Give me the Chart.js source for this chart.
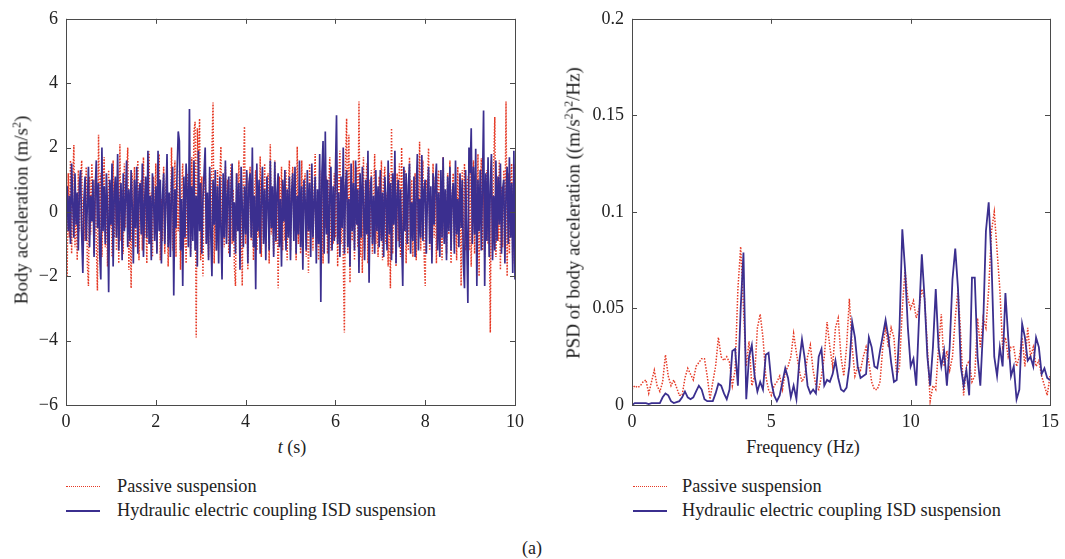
<!DOCTYPE html>
<html>
<head>
<meta charset="utf-8">
<script src="https://cdn.jsdelivr.net/npm/chart.js@4.4.1/dist/chart.umd.min.js"></script>
<style>
  html, body { margin:0; padding:0; background:#fff; }
  body { width:1065px; height:559px; position:relative; overflow:hidden; font-family:"Liberation Serif", "DejaVu Serif", serif; color:#222; }
  canvas { position:absolute; }
  .t { position:absolute; font-size:18px; white-space:nowrap; line-height:1; }
  .yt { font-size:19px; }
  .rot { transform:translate(-50%,-50%) rotate(-90deg); }
  .ctr { transform:translate(-50%,-50%); }
  sup { font-size:12px; vertical-align:7px; line-height:0; }
  .leg { position:absolute; font-size:18.3px; white-space:nowrap; line-height:1; }
  .sw { position:absolute; width:34px; height:0; }
</style>
</head>
<body>
<canvas id="c1" width="530" height="430" style="left:0;top:0;"></canvas>
<canvas id="c2" width="535" height="430" style="left:530px;top:0;"></canvas>

<div class="t yt rot" style="left:21px;top:210px;">Body acceleration (m/s<sup>2</sup>)</div>
<div class="t ctr" style="left:292px;top:447px;"><i>t</i> (s)</div>
<div class="t yt rot" style="left:573px;top:213px;">PSD of body acceleration ((m/s<sup>2</sup>)<sup>2</sup>/Hz)</div>
<div class="t ctr" style="left:803px;top:447px;">Frequency (Hz)</div>

<div class="sw" style="left:66px;top:486px;border-top:1.5px dotted #e63a26;"></div>
<div class="leg" style="left:117px;top:477px;">Passive suspension</div>
<div class="sw" style="left:66px;top:510px;border-top:2px solid #3b2f8f;"></div>
<div class="leg" style="left:117px;top:501px;">Hydraulic electric coupling ISD suspension</div>

<div class="sw" style="left:633px;top:486px;border-top:1.5px dotted #e63a26;"></div>
<div class="leg" style="left:682px;top:477px;">Passive suspension</div>
<div class="sw" style="left:633px;top:510px;border-top:2px solid #3b2f8f;"></div>
<div class="leg" style="left:682px;top:501px;">Hydraulic electric coupling ISD suspension</div>

<div class="t ctr" style="left:532px;top:548px;">(a)</div>

<script>
// ---------- Data ----------
// Time histories, sampled every 0.025 s from 0 to 10 s (one row = 1 s)
const timeStep = 0.025;
const passiveAccel = [
 -0.4,-2.0,1.2,-0.8,1.6,-1.3,0.9,2.08,-1.1,0.5,-1.5,1.3,-0.6,1.0,1.6,-1.2,0.4,-0.9,1.4,-1.6,-2.3,1.1,-0.7,1.5,0.6,-1.3,1.0,-1.0,-2.44,2.4,-0.8,1.2,-1.4,0.5,1.7,-1.1,0.8,-1.7,1.3,-0.5,
 0.9,-1.4,1.6,-0.8,0.4,-1.2,1.3,-1.6,2.1,-0.9,0.7,-1.3,1.5,-0.5,1.1,2.0,-1.8,0.6,-2.37,1.2,-0.6,1.4,-1.1,0.8,1.6,-1.5,0.3,1.0,-1.2,1.7,-0.8,0.5,-1.6,1.3,1.88,-1.0,0.6,-1.4,1.1,-0.7,
 1.5,-1.2,0.7,1.8,-1.5,0.4,-0.9,1.4,-1.3,0.8,1.2,-1.7,0.6,-1.0,2.0,-1.2,0.5,1.6,-1.4,0.9,-0.6,1.3,-1.8,0.7,1.5,-1.1,0.3,-1.6,1.2,-0.8,1.0,-1.3,1.7,-0.5,2.5,2.8,-3.9,2.6,1.5,2.9,
 -1.5,1.1,-2.0,0.8,1.6,-1.0,0.4,-1.4,1.2,-0.7,1.9,3.4,-1.6,0.9,-1.2,1.3,-0.5,1.0,2.03,-1.5,0.6,-1.1,1.4,-0.8,1.0,-1.3,0.5,1.5,-1.0,0.7,-1.7,-2.3,1.2,-0.6,1.6,-1.2,0.4,-2.3,1.1,2.65,
 -1.0,1.2,-1.8,0.6,1.4,-0.9,1.0,-1.5,0.7,1.3,-1.2,0.5,-0.8,1.72,-1.4,0.9,-0.6,1.5,-1.1,0.8,1.2,-1.6,2.1,-0.7,0.4,-1.3,1.6,-1.0,0.6,-2.37,1.1,-0.5,1.4,-1.2,0.8,-0.9,1.3,-1.5,0.7,1.6,
 -1.2,0.8,1.4,-0.6,1.1,-1.5,2.03,-1.0,0.5,-1.3,1.6,-0.9,0.7,1.2,-1.4,0.4,-1.9,1.5,-0.7,1.0,-1.2,0.6,1.8,-1.1,0.3,-1.5,1.3,-0.8,0.9,-1.6,1.4,-0.5,1.1,-1.3,0.7,1.7,-1.2,0.5,-1.0,1.2,
 -0.8,1.5,-1.7,0.9,1.9,-1.0,0.6,-1.4,-3.75,1.5,2.9,-1.3,2.4,-2.2,1.2,-0.9,1.6,-1.5,0.8,1.4,-1.1,3.43,-1.4,0.7,-1.9,1.7,-1.2,0.6,1.5,-1.6,1.0,-0.8,1.3,-1.3,0.5,1.8,-1.0,0.6,-1.4,1.1,
 -0.8,1.6,-1.5,0.9,1.4,-1.0,0.6,-1.7,1.2,-2.37,2.6,-1.3,0.7,1.4,-1.7,1.2,-0.9,1.5,-1.4,2.0,-1.1,0.8,1.3,-1.6,0.5,-1.2,1.7,-0.7,1.0,-1.4,0.6,1.2,-1.5,0.9,-0.6,2.18,-1.2,0.8,1.6,-1.3,
 -2.3,1.0,0.7,1.98,-1.2,0.5,-1.4,1.5,-0.8,1.1,-1.6,0.9,1.3,-1.1,0.6,-1.5,1.7,-0.9,0.4,-1.3,1.2,-0.7,1.6,-1.6,0.6,1.2,-1.0,0.8,-1.5,1.4,-0.6,1.0,-2.3,1.3,-0.9,1.5,-1.2,0.7,1.1,-1.2,
 1.4,-1.7,0.8,1.6,-1.3,1.2,-0.9,1.8,-2.0,0.6,1.67,-1.2,1.0,-1.4,0.7,1.3,-1.0,0.5,-3.75,1.6,-1.2,1.4,2.95,-1.4,1.1,-0.9,1.6,-1.8,0.8,-1.1,1.3,-0.6,3.43,-2.0,1.2,-1.3,0.9,1.5,-1.6,1.47,
 0.8
];
const isdAccel = [
 0.2,0.8,-0.6,0.5,-1.0,1.5,0.3,-0.8,1.2,-0.4,0.6,-1.2,0.9,1.3,-0.7,-1.9,0.4,1.1,-0.9,0.2,1.4,-1.1,0.5,-0.3,1.0,-1.4,0.7,1.6,-0.5,0.9,-1.3,-2.1,2.0,-0.6,0.8,-1.0,1.2,0.1,-2.5,1.0,
 -0.4,1.5,-1.7,0.6,1.1,-0.8,1.8,-1.2,0.3,0.9,-1.5,1.2,-0.6,0.4,1.6,-1.1,0.7,-0.9,1.3,0.2,-1.6,1.0,-0.5,1.4,-1.3,0.6,0.9,-0.7,1.5,-1.4,0.3,1.1,-0.8,1.9,-1.0,0.5,-1.5,1.2,0.4,-0.9,
 0.8,-1.3,1.9,-0.6,1.0,-1.6,0.5,1.2,-1.0,0.3,1.8,-1.1,0.6,-1.4,0.9,1.4,-2.6,0.7,-0.5,1.3,2.5,2.2,-1.2,0.4,-2.3,1.1,-0.8,1.5,0.6,-1.1,3.2,-1.4,0.8,-0.9,1.6,-1.2,0.5,-1.7,1.9,-0.6,
 0.9,-1.3,0.4,1.2,2.0,-1.0,0.6,-1.5,1.4,-0.7,-2.0,1.0,-0.4,1.3,-1.2,0.8,-1.6,1.1,-0.5,-2.1,1.2,-0.8,1.6,-1.0,0.5,1.1,-1.4,0.7,1.5,-0.9,0.3,-1.3,1.2,-0.6,0.9,-1.8,1.4,0.2,-1.1,0.8,
 -0.7,1.3,-1.6,0.9,1.2,-0.8,2.0,-1.1,0.5,-2.4,1.5,-0.6,1.0,-1.3,0.4,1.4,-1.0,0.7,-1.5,1.1,0.3,-1.2,1.6,-0.5,0.8,-1.4,1.56,-0.9,0.6,1.2,-1.1,0.4,-1.7,1.0,-0.3,1.3,-1.2,0.7,-0.8,1.1,
 -1.5,0.6,1.2,-0.9,1.4,-1.3,0.5,-0.7,1.6,-1.1,0.8,-1.8,1.0,0.4,-1.2,1.3,-0.6,0.9,-1.4,1.5,-0.8,0.3,1.1,-1.6,0.7,-1.0,1.8,-2.8,1.2,2.2,-1.3,2.5,-0.7,1.0,-1.6,0.5,1.4,-1.2,0.8,-0.9,
 1.2,3.0,-1.0,0.6,-1.4,1.1,-0.5,2.0,-1.3,0.8,1.3,-1.1,0.4,-1.7,1.5,-0.6,0.9,-1.2,1.6,-0.4,0.7,-1.9,1.2,-0.8,1.4,0.3,-1.5,1.0,-0.7,1.9,-2.2,0.6,1.1,-1.0,0.5,-1.3,1.3,-0.6,0.8,-1.1,
 1.3,-0.9,0.6,-1.4,1.1,0.4,-1.2,1.6,-0.7,0.9,-1.5,1.2,-0.4,1.9,-1.6,0.5,1.0,-1.1,0.7,-0.8,-2.3,1.4,-0.6,1.2,-1.0,0.8,1.5,-1.3,0.3,-0.9,1.1,-1.4,0.6,1.8,-1.2,0.4,-0.8,1.77,-0.9,0.7,
 1.0,-1.3,0.5,1.4,-1.0,0.8,-1.6,1.2,-0.4,0.9,1.5,-1.2,0.6,-1.4,1.3,-0.8,1.7,-1.0,0.7,-1.5,1.1,-0.6,1.4,-1.2,0.5,0.9,-1.3,1.6,-0.7,0.4,-1.1,1.2,-0.5,1.0,-1.6,-2.37,1.3,-0.8,-2.83,2.0,
 1.2,2.6,-1.0,1.4,-0.7,1.96,-2.3,1.0,-0.6,1.3,-1.2,0.8,3.15,-2.3,1.2,-0.9,1.7,-1.4,0.8,1.8,-1.5,0.5,-1.2,1.6,-0.9,1.1,-0.4,1.5,-1.3,0.7,1.0,-1.6,0.6,1.4,-1.0,1.7,-0.8,0.9,-1.9,1.9,
 -2.1
];

// PSD, sampled every 0.1 Hz from 0 to 15 Hz
const freqStep = 0.1;
const passivePSD = [
 0.008,0.010,0.009,0.010,0.012,0.013,0.006,0.012,0.018,0.010,
 0.007,0.012,0.026,0.015,0.010,0.013,0.009,0.005,0.005,0.014,
 0.019,0.016,0.013,0.020,0.022,0.024,0.024,0.015,0.003,0.012,
 0.020,0.035,0.025,0.023,0.025,0.022,0.010,0.018,0.060,0.082,
 0.050,0.020,0.033,0.010,0.015,0.040,0.047,0.035,0.015,0.008,
 0.005,0.010,0.012,0.015,0.008,0.017,0.020,0.025,0.037,0.027,
 0.018,0.012,0.015,0.025,0.031,0.018,0.010,0.008,0.015,0.025,
 0.043,0.030,0.020,0.040,0.045,0.025,0.015,0.030,0.055,0.030,
 0.015,0.020,0.018,0.025,0.030,0.022,0.012,0.008,0.008,0.012,
 0.030,0.040,0.030,0.040,0.035,0.015,0.020,0.050,0.070,0.055,
 0.050,0.054,0.045,0.050,0.060,0.055,0.030,0.002,0.010,0.008,
 0.030,0.047,0.020,0.028,0.018,0.025,0.045,0.060,0.035,0.005,
 0.020,0.023,0.012,0.015,0.045,0.030,0.045,0.040,0.060,0.090,
 0.100,0.080,0.060,0.030,0.035,0.025,0.030,0.030,0.020,0.025,
 0.035,0.020,0.040,0.025,0.030,0.020,0.023,0.015,0.010,0.005,
 0.015
];
const isdPSD = [
 0.000,0.001,0.001,0.001,0.001,0.001,0.0005,0.001,0.001,0.001,
 0.001,0.004,0.006,0.005,0.002,0.001,0.0015,0.002,0.004,0.007,
 0.004,0.003,0.004,0.007,0.010,0.008,0.003,0.002,0.002,0.002,
 0.006,0.011,0.010,0.006,0.003,0.008,0.028,0.029,0.010,0.050,
 0.079,0.003,0.025,0.031,0.015,0.007,0.012,0.008,0.026,0.027,
 0.012,0.005,0.002,0.005,0.012,0.019,0.014,0.004,0.010,0.003,
 0.022,0.034,0.024,0.010,0.006,0.008,0.006,0.025,0.029,0.010,
 0.013,0.012,0.016,0.023,0.014,0.008,0.007,0.009,0.020,0.043,
 0.035,0.020,0.014,0.015,0.016,0.035,0.030,0.020,0.019,0.028,
 0.036,0.044,0.035,0.022,0.012,0.013,0.040,0.091,0.070,0.040,
 0.020,0.024,0.010,0.045,0.078,0.055,0.025,0.010,0.030,0.060,
 0.030,0.020,0.028,0.010,0.030,0.065,0.081,0.060,0.020,0.010,
 0.018,0.005,0.066,0.066,0.025,0.010,0.040,0.090,0.105,0.075,
 0.025,0.015,0.030,0.020,0.058,0.035,0.015,0.020,0.003,0.008,
 0.042,0.035,0.023,0.025,0.020,0.035,0.030,0.016,0.019,0.014,
 0.013
];

// Tick labels
const timeTicks = [0, 2, 4, 6, 8, 10];
const accelTicks = [-6, -4, -2, 0, 2, 4, 6];
const freqTicks = [0, 5, 10, 15];
const psdTicks = [0, 0.05, 0.1, 0.15, 0.2];

// ---------- Styling ----------
const RED = '#e63a26';
const BLUE = '#3b2f8f';
const FONT = { family: '"Liberation Serif", serif', size: 18 };
const toPts = (arr, step) => arr.map((v, i) => ({ x: +(i * step).toFixed(4), y: v }));
const fmt = v => (v < 0 ? '\u2212' + Math.abs(v) : String(+v.toFixed(3)));

const framePlugin = {
  id: 'frame',
  afterDraw(chart) {
    const { ctx, chartArea: a, scales: { x, y } } = chart;
    ctx.save();
    ctx.strokeStyle = '#4a4a4a';
    ctx.lineWidth = 1;
    ctx.strokeRect(Math.round(a.left) + 0.5, Math.round(a.top) + 0.5, Math.round(a.right - a.left), Math.round(a.bottom - a.top));
    const L = 5;
    ctx.beginPath();
    x.ticks.forEach(t => {
      const p = Math.round(x.getPixelForValue(t.value)) + 0.5;
      ctx.moveTo(p, a.bottom); ctx.lineTo(p, a.bottom - L);
      ctx.moveTo(p, a.top); ctx.lineTo(p, a.top + L);
    });
    y.ticks.forEach(t => {
      const p = Math.round(y.getPixelForValue(t.value)) + 0.5;
      ctx.moveTo(a.left, p); ctx.lineTo(a.left + L, p);
      ctx.moveTo(a.right, p); ctx.lineTo(a.right - L, p);
    });
    ctx.stroke();
    ctx.restore();
  }
};

function makeChart(id, cfg) {
  return new Chart(document.getElementById(id), {
    type: 'line',
    data: {
      datasets: [
        { data: cfg.blue, borderColor: BLUE, borderWidth: cfg.blueW, pointRadius: 0, tension: 0, order: 1 },
        { data: cfg.red, borderColor: RED, borderWidth: 1.5, borderDash: [1.5, 1.5], pointRadius: 0, tension: 0, order: 2 }
      ]
    },
    options: {
      responsive: false,
      animation: false,
      devicePixelRatio: 1,
      layout: { padding: { top: 14, right: cfg.padRight, left: 0, bottom: 0 } },
      plugins: { legend: { display: false }, tooltip: { enabled: false } },
      scales: {
        x: {
          type: 'linear', min: cfg.xMin, max: cfg.xMax,
          grid: { display: false, drawTicks: false }, border: { display: false },
          afterBuildTicks: s => { s.ticks = cfg.xTicks.map(v => ({ value: v })); },
          ticks: { font: FONT, color: '#222', padding: 6, maxRotation: 0, callback: v => fmt(v) },
          afterFit: s => { s.height = 25; }
        },
        y: {
          type: 'linear', min: cfg.yMin, max: cfg.yMax,
          grid: { display: false, drawTicks: false }, border: { display: false },
          afterBuildTicks: s => { s.ticks = cfg.yTicks.map(v => ({ value: v })); },
          ticks: { font: FONT, color: '#222', padding: 8, callback: v => fmt(v) },
          afterFit: s => { s.width = cfg.yWidth; }
        }
      }
    },
    plugins: [framePlugin]
  });
}

makeChart('c1', {
  blue: toPts(isdAccel, timeStep), red: toPts(passiveAccel, timeStep), blueW: 1.7,
  xMin: 0, xMax: 10, yMin: -6, yMax: 6, xTicks: timeTicks, yTicks: accelTicks,
  yWidth: 66, padRight: 11
});
makeChart('c2', {
  blue: toPts(isdPSD, freqStep), red: toPts(passivePSD, freqStep), blueW: 1.8,
  xMin: 0, xMax: 15, yMin: 0, yMax: 0.2, xTicks: freqTicks, yTicks: psdTicks,
  yWidth: 102, padRight: 14
});
</script>
</body>
</html>
